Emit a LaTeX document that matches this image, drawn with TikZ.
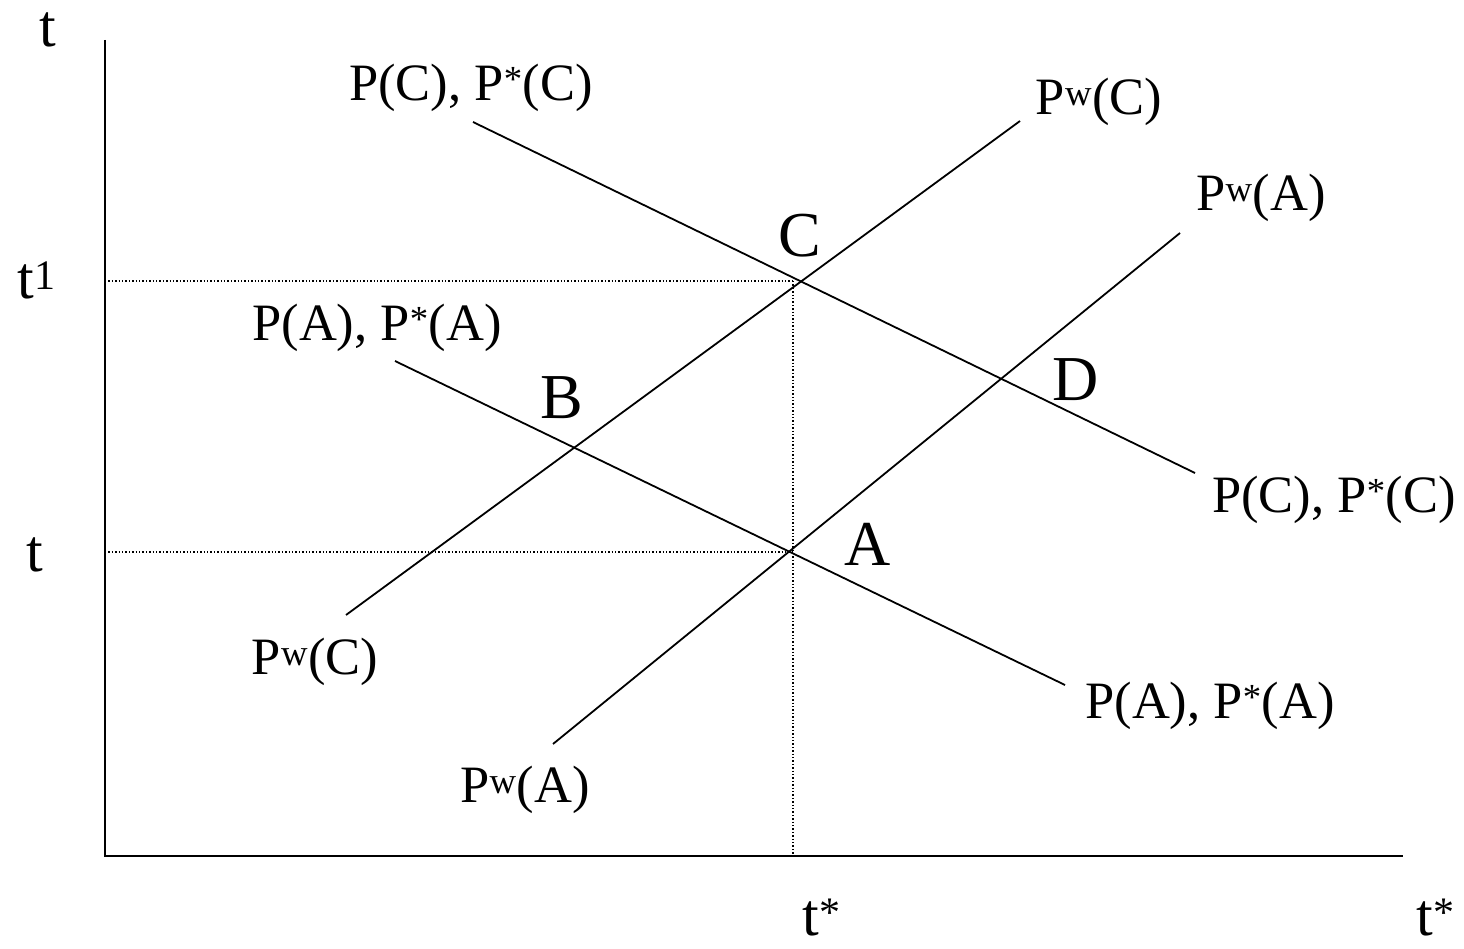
\documentclass[tikz,border=0pt]{standalone}
\usepackage{fontspec}
\setmainfont{Liberation Serif}
\tikzset{
  lbl/.style={font=\fontsize{52.5}{60}\selectfont, inner sep=0pt, anchor=center},
  pt/.style={font=\fontsize{64}{70}\selectfont, inner sep=0pt, anchor=center},
  ax/.style={font=\fontsize{60}{70}\selectfont, inner sep=0pt, anchor=center},
  curve/.style={line width=1.8pt},
  guide/.style={line width=1.4pt, dotted},
}
\begin{document}
\begin{tikzpicture}[x=1pt,y=-1pt]
\useasboundingbox (0,0) rectangle (1464,949);
% axes
\coordinate (O) at (105,856);
\coordinate (Ytop) at (105,40);
\coordinate (Xend) at (1403,856);
\draw[line width=2pt] (Ytop) -- (O) -- (Xend);
% guide points
\coordinate (Cpt) at (793,281);
\coordinate (Apt) at (793,552);
\coordinate (Y1) at (105,281);
\coordinate (Y0) at (105,552);
\coordinate (Xs) at (793,856);
\draw[guide] (Y1) -- (Cpt);
\draw[guide] (Y0) -- (Apt);
\draw[guide] (Cpt) -- (Xs);
% curves
\coordinate (PC1) at (473,122);
\coordinate (PC2) at (1195,473);
\coordinate (PA1) at (395,361);
\coordinate (PA2) at (1065,685);
\coordinate (WC1) at (346,615);
\coordinate (WC2) at (1020,121);
\coordinate (WA1) at (553,744);
\coordinate (WA2) at (1180,233);
\draw[curve] (PC1) -- (PC2);
\draw[curve] (PA1) -- (PA2);
\draw[curve] (WC1) -- (WC2);
\draw[curve] (WA1) -- (WA2);
% axis labels
\node[ax] (tt) at (48,30) {t};
\node[ax] (t1) at (37,280) {t\textsuperscript{1}};
\node[ax] (t0) at (35,555) {t};
\node[ax] (ts) at (822,918) {t\textsuperscript{*}};
\node[ax] (tsr) at (1436,918) {t\textsuperscript{*}};
% curve labels
\node[lbl] (lPC1) at (471,88) {P(C), P\textsuperscript{*}(C)};
\node[lbl] (lPC2) at (1334,500) {P(C), P\textsuperscript{*}(C)};
\node[lbl] (lPA1) at (377,328) {P(A), P\textsuperscript{*}(A)};
\node[lbl] (lPA2) at (1210,706) {P(A), P\textsuperscript{*}(A)};
\node[lbl] (lWC1) at (1099,102) {P\textsuperscript{w}(C)};
\node[lbl] (lWC2) at (315,662) {P\textsuperscript{w}(C)};
\node[lbl] (lWA1) at (1261,198) {P\textsuperscript{w}(A)};
\node[lbl] (lWA2) at (525,790) {P\textsuperscript{w}(A)};
% point labels
\node[pt] (C) at (800,236) {C};
\node[pt] (B) at (562,398) {B};
\node[pt] (D) at (1076,380) {D};
\node[pt] (A) at (868,544) {A};
\end{tikzpicture}
\end{document}
